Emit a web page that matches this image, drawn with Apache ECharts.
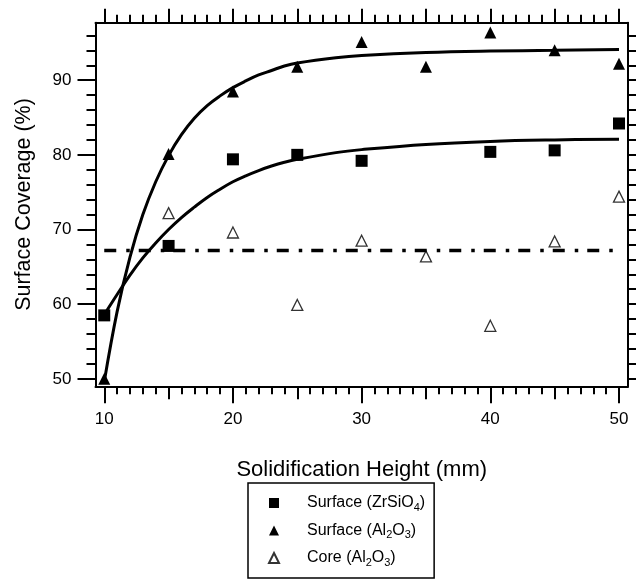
<!DOCTYPE html>
<html>
<head>
<meta charset="utf-8">
<script src="https://cdn.jsdelivr.net/npm/echarts@6/dist/echarts.min.js"></script>
<style>html,body{margin:0;padding:0;background:#fff;}#c{width:636px;height:581px;}</style>
</head>
<body>
<div id="c"></div>
<script>
// ---- data ----
const squareX = [10, 15, 20, 25, 30, 40, 45, 50];
const squareY = [58.5, 67.8, 79.4, 80.0, 79.2, 80.4, 80.6, 84.2];
const triX = [10, 15, 20, 25, 30, 35, 40, 45, 50];
const triY = [50.0, 80.1, 88.5, 91.8, 95.1, 91.8, 96.4, 94.0, 92.2];
const coreX = [15, 20, 25, 30, 35, 40, 45, 50];
const coreY = [72.2, 69.6, 59.9, 68.5, 66.4, 57.1, 68.4, 74.4];
// fitted curves
const fitTriX = [10, 11, 12, 13, 14, 15, 16, 17, 18, 19, 20, 21, 22, 23, 24, 25, 28, 30, 35, 40, 45, 50];
const fitTriY = [49.6, 59.0, 66.3, 72.0, 76.4, 79.9, 82.7, 84.9, 86.6, 87.9, 89.0, 89.9, 90.7, 91.3, 91.9, 92.3, 93.0, 93.3, 93.7, 93.9, 94.0, 94.1];
const fitSqX = [10, 11, 12, 13, 14, 15, 16, 17, 18, 19, 20, 21, 22, 23, 24, 25, 28, 30, 35, 40, 45, 50];
const fitSqY = [58.6, 61.3, 63.9, 66.2, 68.2, 70.0, 71.6, 73.0, 74.3, 75.4, 76.4, 77.2, 77.9, 78.5, 79.0, 79.4, 80.3, 80.7, 81.4, 81.8, 82.0, 82.1];
const refLineX = [10, 50];
const refLineY = [67.2, 67.2];
// ticks & labels
const xLabels = [10, 20, 30, 40, 50];
const xMajorTicks = [10, 20, 30, 40, 50];
const xMidTicks = [15, 25, 35, 45];
const xMinorTicks = [10,11,12,13,14,15,16,17,18,19,20,21,22,23,24,25,26,27,28,29,30,31,32,33,34,35,36,37,38,39,40,41,42,43,44,45,46,47,48,49,50];
const xTopMajorTicks = [10, 15, 20, 25, 30, 35, 40, 45, 50];
const yLabels = [50, 60, 70, 80, 90];
const yMajorTicks = [50, 60, 70, 80, 90];
const yMinorTicks = [50,52,54,56,58,60,62,64,66,68,70,72,74,76,78,80,82,84,86,88,90,92,94,96];
const seriesNames = ['Surface (ZrSiO4)', 'Surface (Al2O3)', 'Core (Al2O3)'];
const legendRich = {
  'Surface (ZrSiO4)': '{t|Surface (ZrSiO}{s|4}{t|)}',
  'Surface (Al2O3)': '{t|Surface (Al}{s|2}{t|O}{s|3}{t|)}',
  'Core (Al2O3)': '{t|Core (Al}{s|2}{t|O}{s|3}{t|)}'
};

const FONT = '"Liberation Sans", Arial, Helvetica, sans-serif';
const X_MIN = 9.32, X_MAX = 50.7, Y_MIN = 49, Y_MAX = 97.7;
const zip = (xs, ys) => xs.map((x, i) => [x, ys[i]]);

function xAx(pos, ticks, len, opts) {
  return Object.assign({
    type: 'value', position: pos, min: X_MIN, max: X_MAX, gridIndex: 0,
    axisLine: { show: false, onZero: false, lineStyle: { color: '#000', width: 2 } },
    axisTick: { show: true, customValues: ticks, length: len, lineStyle: { color: '#000', width: 2 } },
    axisLabel: { show: false },
    splitLine: { show: false }
  }, opts || {});
}
function yAx(pos, ticks, len, opts) {
  return Object.assign({
    type: 'value', position: pos, min: Y_MIN, max: Y_MAX, gridIndex: 0,
    axisLine: { show: false, onZero: false, lineStyle: { color: '#000', width: 2 } },
    axisTick: { show: true, customValues: ticks, length: len, lineStyle: { color: '#000', width: 2 } },
    axisLabel: { show: false },
    splitLine: { show: false }
  }, opts || {});
}

const chart = echarts.init(document.getElementById('c'), null, { renderer: 'canvas' });
chart.setOption({
  animation: false,
  backgroundColor: '#fff',
  grid: { left: 95.5, right: 8, top: 22.7, bottom: 194.7, containLabel: false, outerBoundsMode: 'none' },
  xAxis: [
    xAx('bottom', xMajorTicks, 17, {
      axisLine: { show: true, onZero: false, lineStyle: { color: '#000', width: 2 } },
      axisLabel: { show: true, customValues: xLabels, margin: 25, color: '#000', fontSize: 17, fontFamily: FONT },
      name: 'Solidification Height (mm)', nameLocation: 'middle', nameGap: 73,
      nameTextStyle: { color: '#000', fontSize: 22, fontFamily: FONT }
    }),
    xAx('bottom', xMidTicks, 13),
    xAx('bottom', xMinorTicks, 8),
    xAx('top', xTopMajorTicks, 14, { axisLine: { show: true, onZero: false, lineStyle: { color: '#000', width: 2 } } }),
    xAx('top', xMinorTicks, 8)
  ],
  yAxis: [
    yAx('left', yMajorTicks, 18, {
      axisLine: { show: true, onZero: false, lineStyle: { color: '#000', width: 2 } },
      axisLabel: { show: true, customValues: yLabels, margin: 24, color: '#000', fontSize: 17, fontFamily: FONT },
      name: 'Surface Coverage (%)', nameLocation: 'middle', nameGap: 60, nameRotate: 90,
      nameTextStyle: { color: '#000', fontSize: 21.5, fontFamily: FONT }
    }),
    yAx('left', yMinorTicks, 9),
    yAx('right', yMinorTicks, 8, { axisLine: { show: true, onZero: false, lineStyle: { color: '#000', width: 2 } } })
  ],
  legend: {
    data: seriesNames,
    orient: 'vertical',
    left: 248, top: 483,
    padding: [12, 9, 10, 20],
    itemGap: 9.5,
    itemWidth: 10, itemHeight: 10,
    selectedMode: false,
    borderColor: '#000', borderWidth: 1.5,
    formatter: (n) => legendRich[n],
    textStyle: {
      color: '#000', fontFamily: FONT, fontSize: 16, padding: [0, 0, 0, 23],
      rich: {
        t: { fontSize: 16, lineHeight: 20, color: '#000', fontFamily: FONT },
        s: { fontSize: 11, lineHeight: 11, verticalAlign: 'bottom', color: '#000', fontFamily: FONT }
      }
    }
  },
  series: [
    { type: 'line', name: 'fitTri', data: zip(fitTriX, fitTriY), showSymbol: false, symbol: 'none',
      smooth: 0.4, lineStyle: { color: '#000', width: 3 }, silent: true },
    { type: 'line', name: 'fitSq', data: zip(fitSqX, fitSqY), showSymbol: false, symbol: 'none',
      smooth: 0.4, lineStyle: { color: '#000', width: 3 }, silent: true },
    { type: 'line', name: 'ref', data: zip(refLineX, refLineY), showSymbol: false, symbol: 'none',
      lineStyle: { color: '#000', width: 3.5, type: [12, 10, 3.5, 9], cap: 'butt' }, silent: true },
    { type: 'scatter', name: seriesNames[0], data: zip(squareX, squareY), symbol: 'rect', symbolSize: 12,
      itemStyle: { color: '#000', opacity: 1 } },
    { type: 'scatter', name: seriesNames[1], data: zip(triX, triY), symbol: 'triangle', symbolSize: 12,
      itemStyle: { color: '#000', opacity: 1 } },
    { type: 'scatter', name: seriesNames[2], data: zip(coreX, coreY), symbol: 'triangle', symbolSize: 11,
      itemStyle: { color: '#fff', borderColor: '#333', borderWidth: 1.3, opacity: 1 } }
  ]
});
</script>
</body>
</html>
